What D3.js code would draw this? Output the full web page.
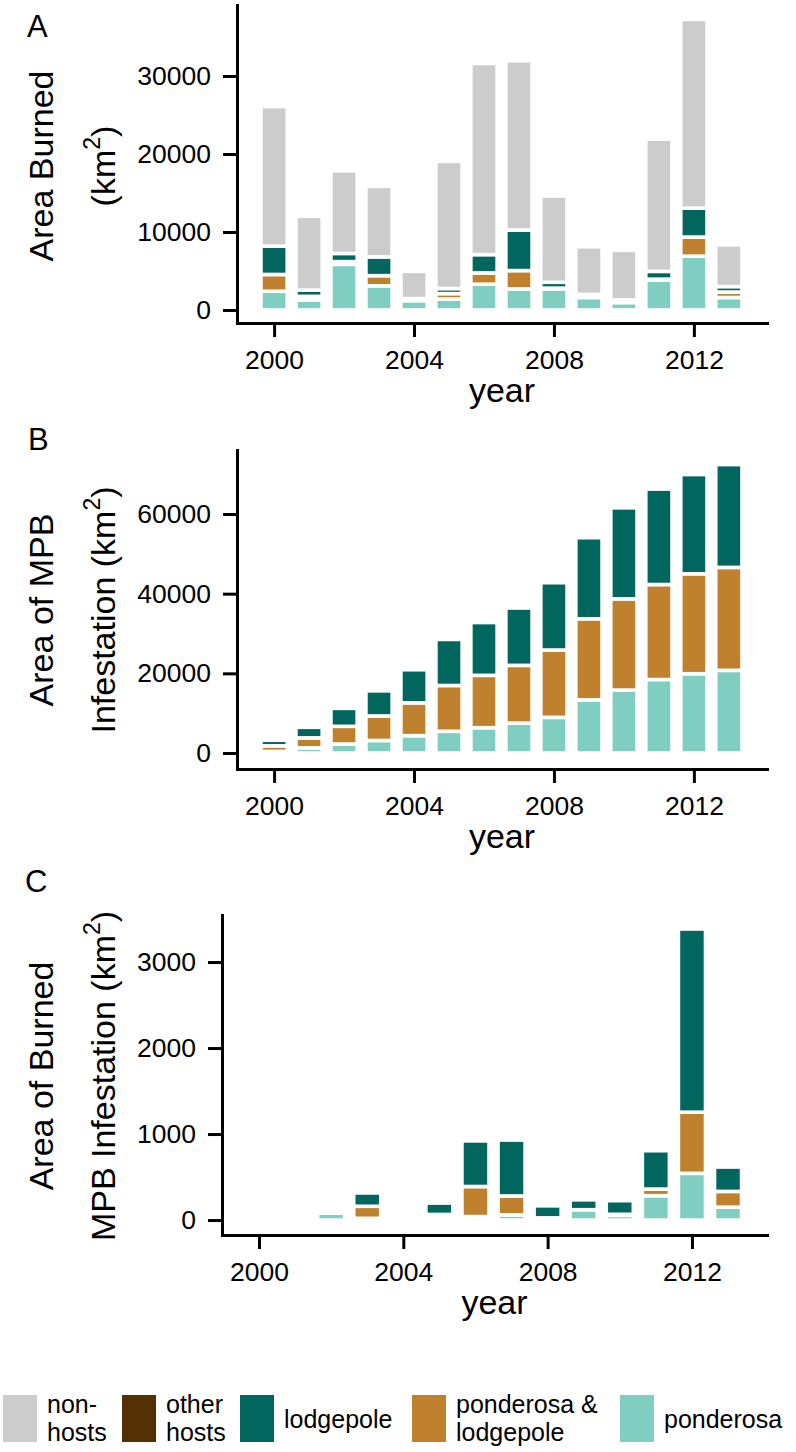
<!DOCTYPE html>
<html>
<head>
<meta charset="utf-8">
<script src="https://cdn.jsdelivr.net/npm/d3@7"></script>
<style>
  body { margin: 0; background: #fff; }
  svg { display: block; font-family: "Liberation Sans", Arial, Helvetica, sans-serif; }
</style>
</head>
<body>
<svg id="chart" width="796" height="1452"></svg>
<script>
const years = [2000, 2001, 2002, 2003, 2004, 2005, 2006, 2007, 2008, 2009, 2010, 2011, 2012, 2013];
const yearTicks = [2000, 2004, 2008, 2012];

// A: area burned (km2)
const burnPonderosa = [2400, 1300, 5850, 3100, 1200, 1400, 3300, 2700, 2700, 1600, 950, 3850, 6900, 1600];
const burnPondLodge = [2150, 450, 350, 1300, 100, 700, 1450, 2350, 100, 150, 150, 100, 2450, 700];
const burnLodgepole = [3630, 800, 1050, 2400, 150, 650, 2350, 5200, 750, 250, 200, 1000, 3700, 700];
const burnOtherHosts = [0, 0, 0, 0, 0, 0, 0, 0, 0, 0, 0, 0, 0, 0];
const burnNonHosts = [17900, 9450, 10600, 9050, 3500, 16300, 24500, 21700, 11050, 6100, 6350, 16950, 24200, 5350];
const burnTicks = [0, 10000, 20000, 30000];

// B: area of MPB infestation (km2)
const mpbPonderosa = [400, 1300, 2250, 3150, 4350, 5450, 6350, 7500, 8950, 13350, 15800, 18450, 19900, 20750];
const mpbPondLodge = [1400, 2500, 4450, 6150, 8250, 11500, 13150, 14500, 16900, 20350, 22900, 23850, 25100, 25850];
const mpbLodgepole = [1400, 2650, 4500, 6300, 8300, 11550, 13250, 14400, 16900, 20350, 22850, 23950, 24900, 25800];
const mpbTicks = [0, 20000, 40000, 60000];

// C: area of burned MPB infestation (km2)
const burnMpbPonderosa = [0, 0, 80, 20, 0, 30, 40, 60, 25, 120, 55, 283, 543, 150];
const burnMpbPondLodge = [0, 0, 0, 140, 0, 35, 350, 220, 0, 0, 12, 77, 711, 183];
const burnMpbLodgepole = [0, 0, 0, 155, 10, 132, 530, 650, 140, 115, 158, 446, 2130, 283];
const burnMpbTicks = [0, 1000, 2000, 3000];

const legendKeys = ['nonHosts', 'otherHosts', 'lodgepole', 'pondLodge', 'ponderosa'];
const legendLabels = [['non-', 'hosts'], ['other', 'hosts'], ['lodgepole'], ['ponderosa &', 'lodgepole'], ['ponderosa']];

const colors = {
  nonHosts: '#cccccc',
  otherHosts: '#543005',
  lodgepole: '#01665e',
  pondLodge: '#bf812d',
  ponderosa: '#80cdc1'
};

const FONT = '"Liberation Sans", Arial, Helvetica, sans-serif';
const svg = d3.select('#chart');

function drawPanel(p) {
  const x = d3.scaleLinear().domain(p.xDomain).range([p.left, 767]);
  const y = d3.scaleLinear().domain(p.yDomain).range([p.bottom, p.top]);

  const keys = Object.keys(p.series);
  const rows = years.map((yr, i) => {
    const r = { year: yr };
    keys.forEach(k => { r[k] = p.series[k][i]; });
    return r;
  });
  const stacked = d3.stack().keys(keys)(rows);

  const g = svg.append('g');

  g.selectAll('g.layer')
    .data(stacked)
    .enter().append('g')
    .attr('class', 'layer')
    .attr('fill', d => colors[d.key])
    .selectAll('rect')
    .data(d => d)
    .enter().append('rect')
    .attr('x', d => x(d.data.year - 0.375))
    .attr('width', d => x(d.data.year + 0.375) - x(d.data.year - 0.375))
    .attr('y', d => y(d[1]))
    .attr('height', d => y(d[0]) - y(d[1]))
    .attr('stroke', '#fff')
    .attr('stroke-width', 3.6);

  // axes
  const yAxis = g.append('g')
    .attr('transform', `translate(${p.left},0)`)
    .call(d3.axisLeft(y).tickValues(p.yTicks).tickSize(14).tickPadding(12)
      .tickSizeOuter(0).tickFormat(d3.format('d')));

  const xAxis = g.append('g')
    .attr('transform', `translate(0,${p.bottom})`)
    .call(d3.axisBottom(x).tickValues(yearTicks).tickSize(14).tickPadding(13)
      .tickSizeOuter(0).tickFormat(d3.format('d')));

  [yAxis, xAxis].forEach(a => {
    a.attr('font-family', FONT).attr('font-size', 26.5);
    a.selectAll('path, line').attr('stroke', '#000').attr('stroke-width', 3);
    a.select('.domain').attr('stroke-linecap', 'square');
    a.selectAll('text').attr('fill', '#000');
  });

  // x title
  g.append('text')
    .attr('x', (p.left + 767) / 2)
    .attr('y', p.bottom + 79)
    .attr('text-anchor', 'middle')
    .attr('font-size', 34)
    .text('year');

  // y titles, two lines
  g.append('text')
    .attr('transform', `translate(53,${p.titleY}) rotate(-90)`)
    .attr('text-anchor', 'middle')
    .attr('font-size', 34)
    .text(p.title1);

  const t2 = g.append('text')
    .attr('transform', `translate(115,${p.titleY}) rotate(-90)`)
    .attr('text-anchor', 'middle')
    .attr('font-size', 34);
  t2.append('tspan').text(p.title2 + '(km');
  t2.append('tspan').attr('font-size', 23).attr('dy', -15).text('2');
  t2.append('tspan').attr('dy', 15).text(')');

  g.append('text')
    .attr('x', p.labelX)
    .attr('y', p.labelY)
    .attr('font-size', 31)
    .text(p.label);
}

drawPanel({
  series: {
    ponderosa: burnPonderosa,
    pondLodge: burnPondLodge,
    lodgepole: burnLodgepole,
    otherHosts: burnOtherHosts,
    nonHosts: burnNonHosts
  },
  left: 237, top: 5, bottom: 323,
  xDomain: [1998.94, 2014.09],
  yDomain: [-1670, 39100],
  yTicks: burnTicks,
  title1: 'Area Burned', title2: '', titleY: 166,
  label: 'A', labelX: 27, labelY: 37
});

drawPanel({
  series: {
    ponderosa: mpbPonderosa,
    pondLodge: mpbPondLodge,
    lodgepole: mpbLodgepole
  },
  left: 237, top: 450, bottom: 769,
  xDomain: [1998.94, 2014.09],
  yDomain: [-4017, 76070],
  yTicks: mpbTicks,
  title1: 'Area of MPB', title2: 'Infestation ', titleY: 610,
  label: 'B', labelX: 28, labelY: 450
});

drawPanel({
  series: {
    ponderosa: burnMpbPonderosa,
    pondLodge: burnMpbPondLodge,
    lodgepole: burnMpbLodgepole
  },
  left: 222, top: 915, bottom: 1235,
  xDomain: [1998.975, 2014.08],
  yDomain: [-174, 3547],
  yTicks: burnMpbTicks,
  title1: 'Area of Burned', title2: 'MPB Infestation ', titleY: 1076,
  label: 'C', labelX: 25, labelY: 892
});

// legend
const legendBoxX = [3, 122, 240, 412, 620];
const legend = svg.append('g').attr('font-size', 25);
legendKeys.forEach((k, i) => {
  legend.append('rect')
    .attr('x', legendBoxX[i]).attr('y', 1395)
    .attr('width', 34).attr('height', 47)
    .attr('fill', colors[k]);
  const lines = legendLabels[i];
  const t = legend.append('text').attr('x', legendBoxX[i] + 44);
  if (lines.length === 1) {
    t.attr('y', 1428).text(lines[0]);
  } else {
    lines.forEach((s, j) => {
      t.append('tspan').attr('x', legendBoxX[i] + 44).attr('y', 1413 + j * 28).text(s);
    });
  }
});
</script>
</body>
</html>
